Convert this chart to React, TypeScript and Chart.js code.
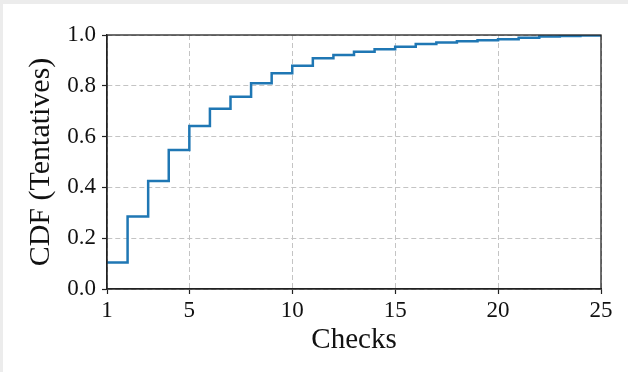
import React, { useEffect, useRef } from "react";
import { Chart, registerables } from "chart.js";

Chart.register(...registerables);

const checks = [1, 2, 3, 4, 5, 6, 7, 8, 9, 10, 11, 12, 13, 14, 15, 16, 17, 18, 19, 20, 21, 22, 23, 24, 25];
const cdfValues = [0.104, 0.285, 0.425, 0.547, 0.642, 0.71, 0.757, 0.81, 0.849, 0.879, 0.908, 0.921, 0.934, 0.944, 0.954, 0.965, 0.97, 0.975, 0.979, 0.983, 0.989, 0.994, 0.996, 0.998, 1.0];
const xTickValues = [1, 5, 10, 15, 20, 25];
const yTickValues = [0, 0.2, 0.4, 0.6, 0.8, 1.0];

const FONT = "'Liberation Serif', 'DejaVu Serif', serif";

const frame = {
  id: "frame",
  afterDraw(chart: any) {
    const { ctx, chartArea } = chart;
    ctx.save();
    ctx.strokeStyle = "#222";
    ctx.lineWidth = 1.3;
    ctx.strokeRect(chartArea.left, chartArea.top, chartArea.right - chartArea.left, chartArea.bottom - chartArea.top);
    ctx.restore();
  },
};

export default function App() {
  const ref = useRef<HTMLCanvasElement>(null);
  useEffect(() => {
    document.body.style.margin = "0";
    document.body.style.background = "#ececec";
    const chart = new Chart(ref.current!, {
      type: "line",
      data: {
        datasets: [
          {
            data: checks.map((c, i) => ({ x: c, y: cdfValues[i] })),
            borderColor: "#1f77b4",
            borderWidth: 2.5,
            pointRadius: 0,
            stepped: "before",
            fill: false,
          },
        ],
      },
      options: {
        animation: false,
        responsive: false,
        layout: { padding: { left: 0, right: 27, top: 31, bottom: 0 } },
        plugins: { legend: { display: false }, tooltip: { enabled: false } },
        scales: {
          x: {
            type: "linear",
            min: 1,
            max: 25,
            afterBuildTicks: (s: any) => {
              s.ticks = xTickValues.map((v) => ({ value: v }));
            },
            afterFit: (s: any) => {
              s.height = 83;
            },
            ticks: {
              color: "#111",
              font: { family: FONT, size: 23 },
              padding: 3,
              maxRotation: 0,
              callback: (v: any) => String(v),
            },
            grid: {
              color: "#c4c4c4",
              lineWidth: 1,
              drawTicks: true,
              tickLength: 5,
              tickColor: "#222",
              tickWidth: 1.2,
            },
            border: { display: true, color: "#222", width: 1.3, dash: [5, 3] },
            title: {
              display: true,
              text: "Checks",
              color: "#111",
              font: { family: FONT, size: 29 },
              padding: { top: 0, bottom: 14 },
            },
          },
          y: {
            type: "linear",
            min: 0,
            max: 1,
            afterBuildTicks: (s: any) => {
              s.ticks = yTickValues.map((v) => ({ value: v }));
            },
            afterFit: (s: any) => {
              s.width = 104;
            },
            ticks: {
              color: "#111",
              font: { family: FONT, size: 23 },
              padding: 6,
              callback: (v: any) => Number(v).toFixed(1),
            },
            grid: {
              color: "#c4c4c4",
              lineWidth: 1,
              drawTicks: true,
              tickLength: 5,
              tickColor: "#222",
              tickWidth: 1.2,
            },
            border: { display: true, color: "#222", width: 1.3, dash: [5, 3] },
            title: {
              display: true,
              text: "CDF (Tentatives)",
              color: "#111",
              font: { family: FONT, size: 30 },
              padding: { top: 20, bottom: 0 },
            },
          },
        },
      },
      plugins: [frame],
    });
    return () => chart.destroy();
  }, []);
  return (
    <div style={{ marginLeft: 3, marginTop: 4, width: 625, height: 368, background: "#fff" }}>
      <canvas ref={ref} width={625} height={368} style={{ display: "block" }} />
    </div>
  );
}
